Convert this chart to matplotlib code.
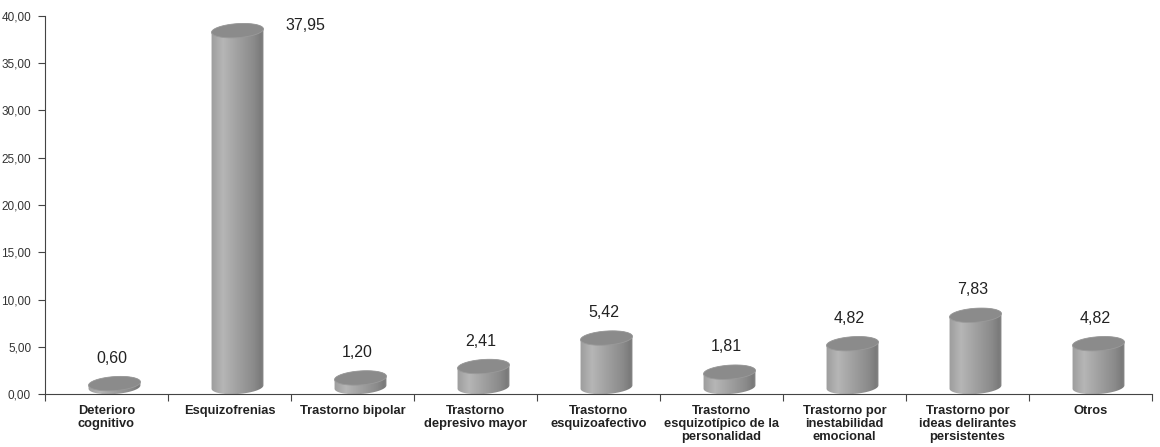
import numpy as np
import matplotlib
matplotlib.use("Agg")
import matplotlib.pyplot as plt
from matplotlib.colors import LinearSegmentedColormap
from matplotlib.patches import Polygon
from matplotlib.ticker import FuncFormatter, FixedLocator

categorias = [
    "Deterioro\ncognitivo",
    "Esquizofrenias",
    "Trastorno bipolar",
    "Trastorno\ndepresivo mayor",
    "Trastorno\nesquizoafectivo",
    "Trastorno\nesquizotípico de la\npersonalidad",
    "Trastorno por\ninestabilidad\nemocional",
    "Trastorno por\nideas delirantes\npersistentes",
    "Otros",
]
valores = [0.60, 37.95, 1.20, 2.41, 5.42, 1.81, 4.82, 7.83, 4.82]
etiquetas = ["0,60", "37,95", "1,20", "2,41", "5,42", "1,81", "4,82", "7,83", "4,82"]

plt.rcParams["font.family"] = ["Liberation Sans", "DejaVu Sans"]

W, H = 1160, 447
fig = plt.figure(figsize=(W / 100, H / 100), dpi=100)
ax_l, ax_r, ax_b, ax_t = 45, 1152, 53, 431  # pixel box of the plot area
ax = fig.add_axes([ax_l / W, ax_b / H, (ax_r - ax_l) / W, (ax_t - ax_b) / H])

n = len(valores)
ax.set_xlim(-0.5, n - 0.5)
ax.set_ylim(0, 40)

# pixels per data unit, used to build round shapes in screen space
sx = (ax_r - ax_l) / n
sy = (ax_t - ax_b) / 40.0

a_px, b_px = 26.0, 7.0          # cylinder half width / ellipse half height
phi = np.deg2rad(4)             # slight tilt of the top ellipse
off = 8.0 / sx                  # cylinders sit a bit right of the slot centre

cmap = LinearSegmentedColormap.from_list(
    "cil", [(0.0, "#9c9c9c"), (0.22, "#b6b6b6"), (0.45, "#a4a4a4"),
            (0.8, "#8a8a8a"), (0.93, "#7a7a7a"), (1.0, "#8e8e8e")])
grad = np.linspace(0, 1, 256).reshape(1, -1)


def elipse(cx, cy, t):
    x = a_px * np.cos(t) * np.cos(phi) - b_px * np.sin(t) * np.sin(phi)
    y = a_px * np.cos(t) * np.sin(phi) + b_px * np.sin(t) * np.cos(phi)
    return np.column_stack([cx + x / sx, cy + y / sy])


for i, v in enumerate(valores):
    cx = i + off
    yb = b_px / sy
    yt = max(v + 0.5, yb + 0.35)
    low = elipse(cx, yb, np.linspace(np.pi, 2 * np.pi, 60))
    up = elipse(cx, yt, np.linspace(0, np.pi, 60))
    cuerpo = Polygon(np.vstack([low, up]), closed=True, facecolor="none",
                     edgecolor="none", zorder=2)
    ax.add_patch(cuerpo)
    im = ax.imshow(grad, cmap=cmap, aspect="auto", zorder=2,
                   extent=[cx - a_px / sx * 1.02, cx + a_px / sx * 1.02, 0, yt + 1.2])
    im.set_clip_path(cuerpo)
    tapa = Polygon(elipse(cx, yt, np.linspace(0, 2 * np.pi, 120)), closed=True,
                   facecolor="#8b8b8b", edgecolor="#9a9a9a", lw=0.6, zorder=3)
    ax.add_patch(tapa)

    if i == 1:
        ax.text(i + 0.62, 39.0, etiquetas[i], ha="center", va="center",
                fontsize=11.5, color="#222222")
    else:
        ax.text(i + 0.04, v + 2.4, etiquetas[i], ha="center", va="bottom",
                fontsize=11.5, color="#222222")

ax.set_xlim(-0.5, n - 0.5)
ax.set_ylim(0, 40)

ax.set_yticks(np.arange(0, 41, 5))
ax.yaxis.set_major_formatter(FuncFormatter(lambda y, p: f"{y:.2f}".replace(".", ",")))
ax.tick_params(axis="y", length=5, width=0.8, color="#444444", pad=5,
               labelsize=8.5, labelcolor="#333333")

ax.set_xticks(range(n))
ax.set_xticklabels(categorias, fontsize=9.3, fontweight="bold", color="#222222",
                   linespacing=1.12)
ax.tick_params(axis="x", which="major", length=0, pad=8)
ax.xaxis.set_minor_locator(FixedLocator(np.arange(-0.5, n, 1.0)))
ax.tick_params(axis="x", which="minor", length=5, width=0.8, color="#444444")

for s in ["top", "right"]:
    ax.spines[s].set_visible(False)
for s in ["left", "bottom"]:
    ax.spines[s].set_color("#444444")
    ax.spines[s].set_linewidth(0.8)

fig.savefig("out.png", dpi=100)
